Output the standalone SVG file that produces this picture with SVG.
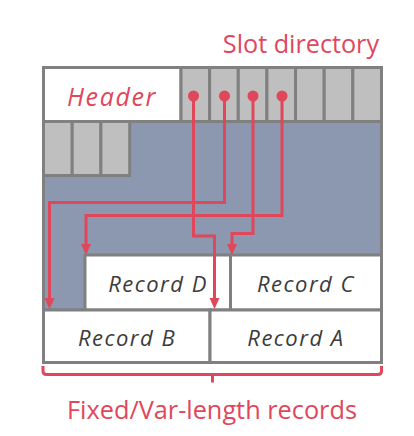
<svg xmlns="http://www.w3.org/2000/svg" width="414" height="436" viewBox="0 0 414 436">
<defs>
<style>
.cell{stroke:#808080;stroke-width:3}
.white{fill:#ffffff}
.slot{fill:#bfbfbf}
.free{fill:#8b98af}
.wire{fill:none;stroke:#e0475b;stroke-width:3}
.dot{fill:#e0475b}
.red{fill:#e0475b;font-family:"Open Sans","Noto Sans",sans-serif}
.rec{fill:#3c3c3c;font-family:"Open Sans","Noto Sans",sans-serif;font-style:italic;font-size:22px;letter-spacing:1.5px;text-anchor:middle}
</style>
<marker id="arr" markerUnits="userSpaceOnUse" markerWidth="12" markerHeight="12" refX="4" refY="5" orient="auto">
<path d="M0,0 L11,5 L0,10 z" fill="#e0475b"/>
</marker>
</defs>
<rect width="414" height="436" fill="#ffffff"/>
<g id="free-space"><rect class="cell free" x="43.5" y="121.5" width="338" height="188.5"/></g>
<g id="header"><rect class="cell white" x="43.5" y="67.5" width="137.5" height="54"/>
<text class="red" x="112" y="106" font-size="25" font-style="italic" letter-spacing="1.6" text-anchor="middle">Header</text></g>
<g id="slot-directory">
<rect class="cell slot" x="181" y="67.5" width="28.64" height="54"/>
<rect class="cell slot" x="209.64" y="67.5" width="28.64" height="54"/>
<rect class="cell slot" x="238.28" y="67.5" width="28.64" height="54"/>
<rect class="cell slot" x="266.92" y="67.5" width="28.64" height="54"/>
<rect class="cell slot" x="295.56" y="67.5" width="28.64" height="54"/>
<rect class="cell slot" x="324.2" y="67.5" width="28.64" height="54"/>
<rect class="cell slot" x="352.84" y="67.5" width="28.66" height="54"/>
<rect class="cell slot" x="43.5" y="121.5" width="28.7" height="54"/>
<rect class="cell slot" x="72.2" y="121.5" width="28.7" height="54"/>
<rect class="cell slot" x="100.9" y="121.5" width="28.8" height="54"/>
<text class="red" x="379" y="53" font-size="25.2" text-anchor="end">Slot directory</text>
</g>
<g id="record-d"><rect class="cell white" x="85" y="255" width="145.5" height="55"/><text class="rec" x="158" y="292">Record D</text></g>
<g id="record-c"><rect class="cell white" x="230.5" y="255" width="151" height="55"/><text class="rec" x="306" y="292">Record C</text></g>
<g id="record-b"><rect class="cell white" x="43.5" y="310" width="166.5" height="52.5"/><text class="rec" x="127" y="346">Record B</text></g>
<g id="record-a"><rect class="cell white" x="210" y="310" width="171.5" height="52.5"/><text class="rec" x="296" y="346">Record A</text></g>
<g id="connectors">
<path class="wire" marker-end="url(#arr)" d="M193.5 96 V236 H214.5 V302"/>
<path class="wire" marker-end="url(#arr)" d="M224.5 96 V202.5 H49.5 V302"/>
<path class="wire" marker-end="url(#arr)" d="M253 96 V233.5 H232 V248"/>
<path class="wire" marker-end="url(#arr)" d="M282 96 V215.5 H86 V248"/>
<circle class="dot" cx="193.5" cy="96" r="5.5"/>
<circle class="dot" cx="224.5" cy="96" r="5.5"/>
<circle class="dot" cx="253" cy="96" r="5.5"/>
<circle class="dot" cx="282" cy="96" r="5.5"/>
<path class="wire" d="M43 366 V371 Q43 374.5 46.5 374.5 H378 Q381.5 374.5 381.5 371 V366 M212.5 374.5 V382.5"/>
</g>
<g id="records-label"><text class="red" x="212" y="419" font-size="25.3" text-anchor="middle">Fixed/Var-length records</text></g>
</svg>
